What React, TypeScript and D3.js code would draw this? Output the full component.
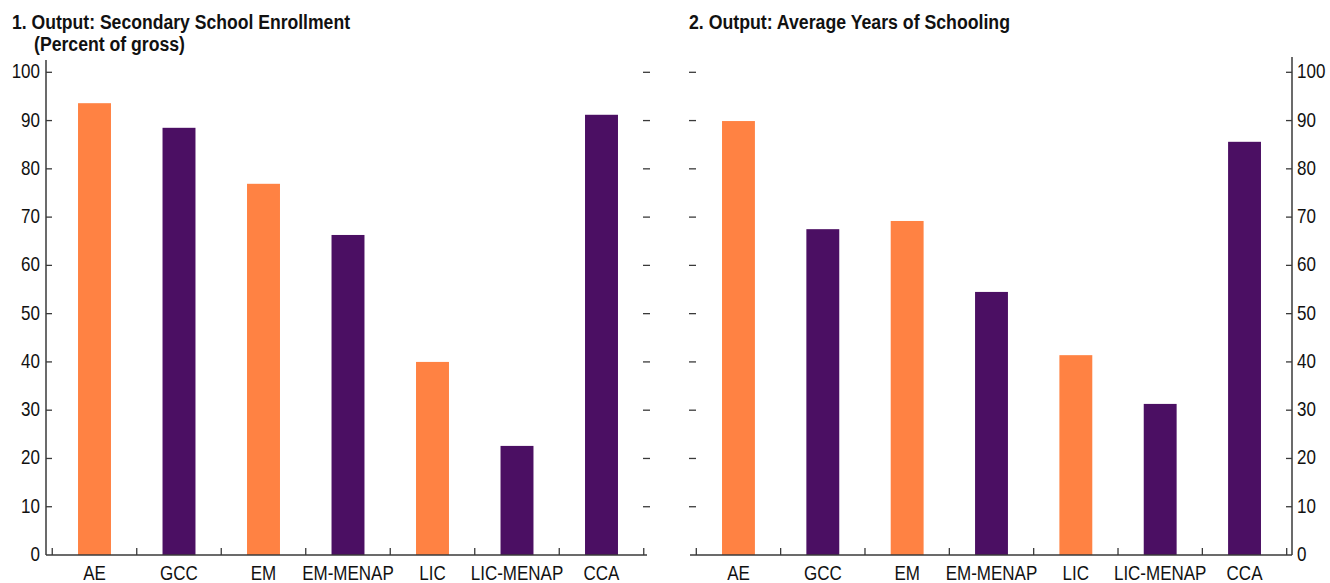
import React from "react";
import * as d3 from "d3";

const categories = ["AE", "GCC", "EM", "EM-MENAP", "LIC", "LIC-MENAP", "CCA"];
const enrollment = [93.6, 88.5, 76.9, 66.3, 40.0, 22.6, 91.2];
const schooling = [89.9, 67.5, 69.2, 54.5, 41.4, 31.3, 85.6];
const barColors = ["#FF8243", "#4B0F63", "#FF8243", "#4B0F63", "#FF8243", "#4B0F63", "#4B0F63"];
const yTicks = [0, 10, 20, 30, 40, 50, 60, 70, 80, 90, 100];

const FONT = "'Liberation Sans', Arial, sans-serif";
const AXIS = "#3a3a3a";
const SX = 0.85;

function NText({ x, y, anchor, children, size = 20 }: { x: number; y: number; anchor: string; children: React.ReactNode; size?: number }) {
  return (
    <g transform={`translate(${x},${y}) scale(${SX},1)`}>
      <text x={0} y={0} textAnchor={anchor} fontFamily={FONT} fontSize={size} fill="#111">
        {children}
      </text>
    </g>
  );
}

type PanelProps = {
  values: number[];
  x0: number;
  x1: number;
  axisSide: "left" | "right";
  axisX: number;
  dashX: number;
  baseStart: number;
  baseEnd: number;
  axisTop: number;
};

function Panel({ values, x0, x1, axisSide, axisX, dashX, baseStart, baseEnd, axisTop }: PanelProps) {
  const y = d3.scaleLinear().domain([0, 100]).range([555, 72.3]);
  const x = d3
    .scaleBand<string>()
    .domain(categories)
    .range([x0, x1])
    .paddingInner(0.61)
    .paddingOuter(0.305);
  const step = x.step();
  const base = y(0);
  return (
    <g>
      {categories.map((c, i) => (
        <rect
          key={c}
          x={x(c)!}
          y={y(values[i])}
          width={x.bandwidth()}
          height={base - y(values[i])}
          fill={barColors[i]}
        />
      ))}
      <line x1={baseStart} x2={baseEnd} y1={base} y2={base} stroke={AXIS} strokeWidth={1.5} />
      {d3.range(categories.length + 1).map((k) => (
        <line
          key={k}
          x1={x0 + k * step}
          x2={x0 + k * step}
          y1={base}
          y2={base - 7}
          stroke={AXIS}
          strokeWidth={1.3}
        />
      ))}
      {categories.map((c) => (
        <NText key={c} x={x(c)! + x.bandwidth() / 2} y={580} anchor="middle">
          {c}
        </NText>
      ))}
      <line x1={axisX} x2={axisX} y1={axisTop} y2={base} stroke={AXIS} strokeWidth={1.5} />
      {yTicks.map((t) => (
        <g key={t}>
          {t > 0 && (
            <line
              x1={axisX}
              x2={axisSide === "left" ? axisX + 6 : axisX - 6}
              y1={y(t)}
              y2={y(t)}
              stroke={AXIS}
              strokeWidth={1.3}
            />
          )}
          {t > 0 && (
            <line x1={dashX} x2={dashX + 7} y1={y(t)} y2={y(t)} stroke={AXIS} strokeWidth={1.3} />
          )}
          <NText
            x={axisSide === "left" ? axisX - 6 : axisX + 5}
            y={y(t) + 6}
            anchor={axisSide === "left" ? "end" : "start"}
          >
            {t}
          </NText>
        </g>
      ))}
    </g>
  );
}

export default function App() {
  return (
    <svg
      width={1330}
      height={583}
      style={{ position: "absolute", left: 0, top: 0, background: "#fff" }}
    >
      <rect width={1330} height={583} fill="#fff" />
      <text x={12} y={29} fontFamily={FONT} fontWeight="bold" fontSize={19.5} fill="#111" textLength={338} lengthAdjust="spacingAndGlyphs">
        1. Output: Secondary School Enrollment
      </text>
      <text x={34} y={51} fontFamily={FONT} fontWeight="bold" fontSize={19.5} fill="#111" textLength={151} lengthAdjust="spacingAndGlyphs">
        (Percent of gross)
      </text>
      <text x={689} y={29} fontFamily={FONT} fontWeight="bold" fontSize={19.5} fill="#111" textLength={321} lengthAdjust="spacingAndGlyphs">
        2. Output: Average Years of Schooling
      </text>
      <Panel
        values={enrollment}
        x0={52.25}
        x1={643.75}
        axisSide="left"
        axisX={46}
        dashX={643}
        baseStart={46}
        baseEnd={647}
        axisTop={60}
      />
      <Panel
        values={schooling}
        x0={696.3}
        x1={1286.7}
        axisSide="right"
        axisX={1292}
        dashX={689}
        baseStart={690}
        baseEnd={1292}
        axisTop={57}
      />
    </svg>
  );
}
